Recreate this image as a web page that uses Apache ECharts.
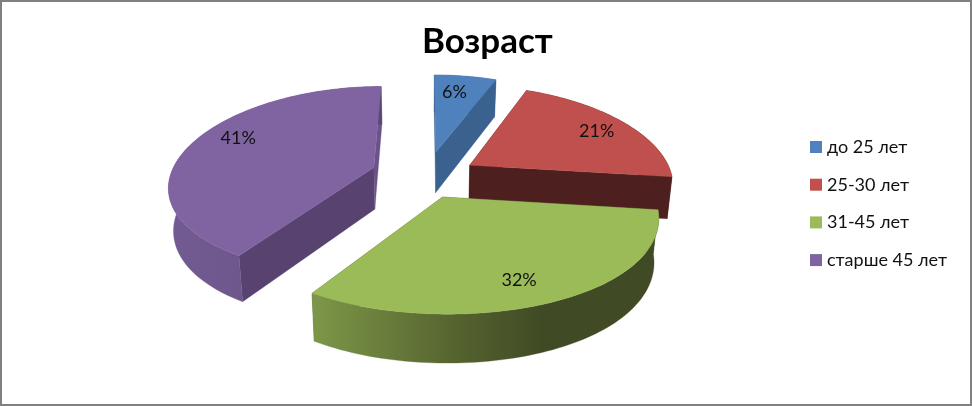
<!DOCTYPE html>
<html><head><meta charset="utf-8">
<style>html,body{margin:0;padding:0;background:#fff}#c{width:972px;height:406px}</style>
<script src="https://cdn.jsdelivr.net/npm/echarts@6/dist/echarts.min.js"></script>
</head><body><div id="c"></div>
<script>
const titleText = 'Возраст';
const categories = ['до 25 лет', '25-30 лет', '31-45 лет', 'старше 45 лет'];
const values = [6, 21, 32, 41];
const topColors = ['#4f81bd', '#c0504d', '#9bbb59', '#8064a2'];
const startCutColors = ['#3a5f8c', '#4d1f1e', '#4d5c2c', '#574270'];
const endCutColors = ['#3b618f', '#4d1f1e', '#4d5c2c', '#6b5288'];
const wallStops = [
  [[0, '#3b618f'], [1, '#3b618f']],
  [[0, '#4d1f1e'], [1, '#4d1f1e']],
  [[0, '#7d9748'], [0.45, '#525f2d'], [0.66, '#404b25'], [1, '#404b25']],
  [[0, '#725b92'], [0.7, '#695383'], [1, '#5c4774']]
];
const drawOrder = [1, 2, 3, 4];
const explodeBy = [0.27, 0.25, 0.25, 0.25];
const sliceShift = [[2, 0], [3, 1], [-4, -1], [-2, -2]];
const labelNudge = [[-3, -5], [17, -3], [2, 13], [-7, -12]];

const geo = {cx: 424, cy: 176, rx: 203, ry: 94, kx: 0.18, ky: 0.14, depth: 42, depthK: 0.05, baseK: 0.98, labelR: 0.7};
const total = values.reduce((a, b) => a + b, 0);

function proj(X, Y) {
  return [geo.cx + geo.rx * X / (1 - geo.kx * Y), geo.cy + geo.ry * Y / (1 - geo.ky * Y)];
}
function base(p) {
  return [geo.cx + (p[0] - geo.cx) * geo.baseK, p[1] + geo.depth + (p[1] - geo.cy) * geo.depthK];
}
function sliceGeom(i) {
  const before = values.slice(0, i).reduce((a, b) => a + b, 0);
  const a0 = before / total * 2 * Math.PI, a1 = (before + values[i]) / total * 2 * Math.PI, m = (a0 + a1) / 2;
  const ox = explodeBy[i] * Math.sin(m), oy = -explodeBy[i] * Math.cos(m);
  const at = (a, f) => proj(ox + f * Math.sin(a), oy - f * Math.cos(a));
  const arc = [];
  const n = 80;
  for (let k = 0; k <= n; k++) arc.push(at(a0 + (a1 - a0) * k / n, 1));
  return {apex: proj(ox, oy), arc, label: at(m, geo.labelR)};
}
function poly(points, fill, dx, dy) {
  return {type: 'polygon', shape: {points: points.map(p => [p[0] + dx, p[1] + dy])}, style: {fill, stroke: fill, lineWidth: 0.3}};
}
function makeRender(i) {
  return function () {
    const g = sliceGeom(i);
    const [dx, dy] = sliceShift[i];
    const arcBase = g.arc.map(base), apexBase = base(g.apex);
    const xs = g.arc.map(p => p[0] + dx);
    const grad = new echarts.graphic.LinearGradient(Math.min(...xs), 0, Math.max(...xs), 0, wallStops[i].map(s => ({offset: s[0], color: s[1]})), true);
    const last = g.arc.length - 1;
    const wall = g.arc.concat(arcBase.slice().reverse());
    return {
      type: 'group',
      children: [
        poly([g.apex, g.arc[0], arcBase[0], apexBase], startCutColors[i], dx, dy),
        poly([g.apex, g.arc[last], arcBase[last], apexBase], endCutColors[i], dx, dy),
        poly(wall, grad, dx, dy),
        poly([g.apex].concat(g.arc), topColors[i], dx, dy),
        {type: 'text', style: {
          x: g.label[0] + dx + labelNudge[i][0], y: g.label[1] + dy + labelNudge[i][1],
          text: values[i] + '%', align: 'center', verticalAlign: 'middle',
          fill: '#111', fontFamily: 'Lato, "Open Sans", sans-serif', fontSize: 18
        }}
      ]
    };
  };
}
const chart = echarts.init(document.getElementById('c'), null, {renderer: 'canvas'});
chart.setOption({
  animation: false,
  backgroundColor: '#fff',
  title: {text: titleText, left: 417, top: 19,
    textStyle: {fontFamily: 'Lato, "Open Sans", sans-serif', fontWeight: 'bold', fontSize: 35, color: '#000'}},
  legend: {
    show: true, orient: 'vertical', left: 810, top: 138, padding: 0, itemWidth: 12, itemHeight: 12, itemGap: 19.7,
    selectedMode: false, icon: 'rect', data: categories,
    textStyle: {fontFamily: 'Lato, "Open Sans", sans-serif', fontSize: 18, color: '#111', lineHeight: 18}
  },
  graphic: [{type: 'rect', silent: true, z: 100, shape: {x: 1, y: 1, width: 970, height: 404},
    style: {fill: 'none', stroke: '#808080', lineWidth: 2}}],
  series: categories.map((name, i) => ({
    type: 'custom', name, coordinateSystem: 'none', z: drawOrder[i],
    itemStyle: {color: topColors[i]},
    data: [[values[i]]], renderItem: makeRender(i), silent: true
  }))
});
</script></body></html>
